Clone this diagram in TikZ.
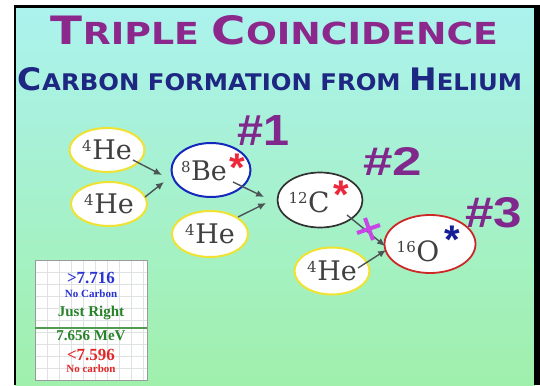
\documentclass[tikz,border=0pt]{standalone}
\usepackage{fontspec}
\usepackage{graphicx}
\usetikzlibrary{shapes.geometric,arrows.meta}
\newfontfamily\titlefont{DejaVu Sans}
\newfontfamily\hashfont{Liberation Sans}
\newfontfamily\tabfont{Liberation Serif}
\newfontfamily\nucfont{DejaVu Serif}
\definecolor{titlepurple}{RGB}{140,40,140}
\definecolor{subnavy}{RGB}{30,40,130}
\definecolor{hashpurple}{RGB}{128,40,140}
\definecolor{bgtop}{RGB}{172,242,238}
\definecolor{bgbot}{RGB}{160,240,172}
\definecolor{heyellow}{RGB}{240,226,50}
\definecolor{beblue}{RGB}{20,40,190}
\definecolor{cgray}{RGB}{50,50,50}
\definecolor{ored}{RGB}{205,40,40}
\definecolor{txtgray}{RGB}{64,64,64}
\definecolor{arrowgray}{RGB}{75,85,85}
\definecolor{starred}{RGB}{235,40,60}
\definecolor{starblue}{RGB}{20,30,150}
\definecolor{xmag}{RGB}{200,70,230}
\definecolor{tblue}{RGB}{40,50,210}
\definecolor{tgreen}{RGB}{40,130,40}
\definecolor{tred}{RGB}{225,40,40}
\definecolor{gridc}{RGB}{222,226,226}
\definecolor{boxc}{RGB}{150,155,155}
\newcommand\iso[1]{\raisebox{8.2pt}{\fontsize{15}{15}\selectfont #1}\kern0.5pt}
\newcommand\tbig[1]{{\fontsize{29}{29}\selectfont #1}}
\newcommand\tsm[1]{{\fontsize{22.5}{22.5}\selectfont #1}}
\newcommand\sbig[1]{{\fontsize{23}{23}\selectfont #1}}
\newcommand\ssm[1]{{\fontsize{17}{17}\selectfont #1}}
\tikzset{
  ring/.style={ellipse, fill=white, inner sep=0pt},
  henuc/.style={ring, draw=heyellow, line width=2pt, text=txtgray,
    font=\nucfont\fontsize{27}{27}\selectfont, minimum width=75pt, minimum height=44pt},
  nuctext/.style={inner sep=0pt, text=txtgray, font=\nucfont\fontsize{28}{28}\selectfont},
  arr/.style={-{Latex[length=8pt,width=7pt]}, line width=1.4pt, draw=arrowgray},
  hashlbl/.style={inner sep=0pt, text=hashpurple, font=\hashfont\bfseries},
  starnode/.style={anchor=base, inner sep=0pt, font=\hashfont\bfseries\fontsize{40}{40}\selectfont},
  tabtxt/.style={anchor=base, inner sep=0pt, font=\tabfont\bfseries}
}
\begin{document}
\begin{tikzpicture}[x=1pt,y=-1pt]
\useasboundingbox (0,0) rectangle (540,385);
\fill[white] (0,0) rectangle (540,385);
\shade[top color=bgtop, bottom color=bgbot] (15,7) rectangle (535,385);
\draw[black, line width=2.5pt] (15,385) -- (15,6.5) -- (535,6.5);
\fill[black] (534,5.25) rectangle (540,385);

% titles
\node[anchor=base, inner sep=0pt, text=titlepurple, font=\titlefont\bfseries] (title) at (274.5,44.5)
  {\resizebox{447pt}{29pt}{\tbig{T}\tsm{RIPLE }\tbig{C}\tsm{OINCIDENCE}}};
\node[anchor=base, inner sep=0pt, text=subnavy, font=\titlefont\bfseries] (subtitle) at (270,90.5)
  {\resizebox{504pt}{23pt}{\sbig{C}\ssm{ARBON FORMATION FROM }\sbig{H}\ssm{ELIUM}}};

% step labels
\node[hashlbl] (h1) at (264,130) {\resizebox{52pt}{30pt}{\#1}};
\node[hashlbl] (h2) at (392.5,161) {\resizebox{59pt}{28pt}{\#2}};
\node[hashlbl] (h3) at (493.5,213) {\resizebox{57pt}{30pt}{\#3}};

% nuclei
\node[henuc] (he1) at (107,150) {\iso{4}He};
\node[henuc, minimum width=76pt] (he2) at (109,204) {\iso{4}He};
\node[ring, draw=beblue, line width=2pt, minimum width=79pt, minimum height=54pt] (be) at (211,170) {};
\node[nuctext, font=\nucfont\fontsize{27}{27}\selectfont] (betxt) at (204,171) {\iso{8}Be};
\node[starnode, text=starred] (bestar) at (237,181.5) {*};
\node[henuc, minimum width=76pt, minimum height=46pt] (he3) at (210,234) {\iso{4}He};
\node[ring, draw=cgray, line width=1.7pt, minimum width=85pt, minimum height=55pt] (c12) at (320,200) {};
\node[nuctext] (ctxt) at (309,202) {\iso{12}C};
\node[starnode, text=starred] (cstar) at (341,208.5) {*};
\node[ring, draw=ored, line width=1.8pt, minimum width=91pt, minimum height=58pt] (o16) at (430,244) {};
\node[nuctext] (otxt) at (418,251) {\iso{16}O};
\node[starnode, text=starblue] (ostar) at (452,253.5) {*};
\node[henuc, minimum height=47pt] (he4) at (332,271) {\iso{4}He};

% arrow targets
\coordinate (tb1) at ([shift={(-8.5,5)}]be.west);
\coordinate (tb2) at ([shift={(-6.5,12)}]be.west);
\coordinate (tc1) at ([shift={(-12.5,-3)}]c12.west);
\coordinate (tc2) at ([shift={(-10.5,3)}]c12.west);
\coordinate (to1) at ([shift={(1.5,2)}]o16.west);
\coordinate (to2) at ([shift={(2.5,6)}]o16.west);

\draw[arr] ([shift={(26,10)}]he1.center) -- (tb1);
\draw[arr] ([shift={(36,-7)}]he2.center) -- (tb2);
\draw[arr] ([shift={(22,12)}]be.center) -- (tc1);
\draw[arr] ([shift={(28,-17)}]he3.center) -- (tc2);
\draw[arr] ([shift={(27,15)}]c12.center) -- (to1);
\draw[arr] ([shift={(26,-3)}]he4.center) -- (to2);

% magenta cross
\draw[xmag, line width=4pt] (357,233) -- (380,225);
\draw[xmag, line width=4pt] (365,218) -- (373,240);

% legend box
\fill[white] (35,260) rectangle (147,380);
\foreach \gx in {47,59,...,143} \draw[gridc, line width=0.6pt] (\gx,260) -- (\gx,380);
\foreach \gy in {272,284,...,376} \draw[gridc, line width=0.6pt] (35,\gy) -- (147,\gy);
\draw[boxc, line width=1pt] (35,260) rectangle (147,380);
\draw[tgreen!80, line width=1.3pt] (35,328) -- (147,328);
\node[tabtxt, text=tblue, font=\tabfont\bfseries\fontsize{17}{17}\selectfont] (v1) at (91,283) {>7.716};
\node[tabtxt, text=tblue, font=\tabfont\bfseries\fontsize{11}{11}\selectfont] (n1) at (91,297) {No Carbon};
\node[tabtxt, text=tgreen, font=\tabfont\bfseries\fontsize{15}{15}\selectfont] (jr) at (91,316) {Just Right};
\node[tabtxt, text=tgreen, font=\tabfont\bfseries\fontsize{15}{15}\selectfont] (v2) at (91,340) {7.656 MeV};
\node[tabtxt, text=tred, font=\tabfont\bfseries\fontsize{17}{17}\selectfont] (v3) at (91,360) {<7.596};
\node[tabtxt, text=tred, font=\tabfont\bfseries\fontsize{11}{11}\selectfont] (n3) at (91,372) {No carbon};
\end{tikzpicture}
\end{document}
